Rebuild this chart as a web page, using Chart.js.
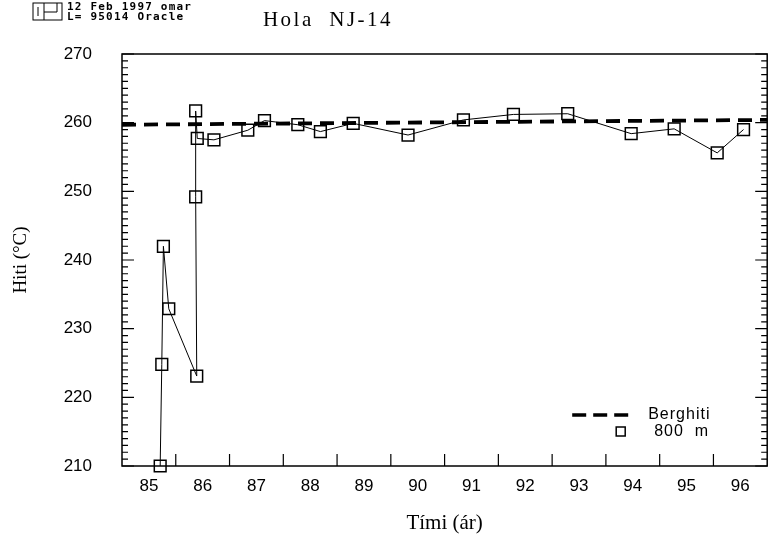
<!DOCTYPE html>
<html>
<head>
<meta charset="utf-8">
<script src="https://cdn.jsdelivr.net/npm/chart.js@4/dist/chart.umd.min.js"></script>
<style>
  body { margin: 0; background: #fff; }
  canvas { display: block; }
</style>
</head>
<body>
<canvas id="holaChart" width="777" height="540"></canvas>
<script>
// Data
const yearLabels = ['85', '86', '87', '88', '89', '90', '91', '92', '93', '94', '95', '96'];
const labelYears = [85, 86, 87, 88, 89, 90, 91, 92, 93, 94, 95, 96];
const years = [85.71, 85.74, 85.77, 85.87, 86.39, 86.37, 86.37, 86.40, 86.71, 87.34, 87.65,
               88.27, 88.69, 89.30, 90.32, 91.35, 92.28, 93.29, 94.47, 95.27, 96.07, 96.56];
const temps = [210.0, 224.8, 242.0, 232.9, 223.1, 249.2, 261.7, 257.7, 257.5, 258.9, 260.3,
               259.7, 258.7, 259.9, 258.2, 260.4, 261.2, 261.3, 258.4, 259.1, 255.6, 259.0];
const bergYears = [85, 97];
const bergTemps = [259.7, 260.4];
const yTicks = [210, 220, 230, 240, 250, 260, 270];

const tickFont = { family: '"Liberation Sans", Arial, sans-serif', size: 17 };
const serif = '"Liberation Serif", "Times New Roman", serif';

// frame, inward tick marks, header, title and legend
const decor = {
  id: 'decor',
  afterDatasetsDraw(chart) {
    const { ctx, chartArea: a, scales: { x, y } } = chart;
    ctx.save();
    ctx.strokeStyle = '#000';
    ctx.lineWidth = 1.5;
    ctx.strokeRect(a.left, a.top, a.right - a.left, a.bottom - a.top);

    ctx.lineWidth = 1.2;
    ctx.beginPath();
    for (let v = y.min; v <= y.max; v++) {
      const py = y.getPixelForValue(v);
      const len = v % 10 === 0 ? 12 : 6;
      ctx.moveTo(a.left, py); ctx.lineTo(a.left + len, py);
      ctx.moveTo(a.right, py); ctx.lineTo(a.right - len, py);
    }
    for (let v = Math.ceil(x.min) + 1; v < x.max; v++) {
      const px = x.getPixelForValue(v);
      ctx.moveTo(px, a.bottom); ctx.lineTo(px, a.bottom - 12);
    }
    ctx.stroke();

    // header block
    ctx.lineWidth = 1;
    ctx.strokeRect(33, 3, 29, 17);
    ctx.beginPath();
    ctx.moveTo(38, 7); ctx.lineTo(38, 16);
    ctx.moveTo(44, 3); ctx.lineTo(44, 20);
    ctx.moveTo(44, 12); ctx.lineTo(57, 12);
    ctx.moveTo(57, 3); ctx.lineTo(57, 12);
    ctx.stroke();
    ctx.fillStyle = '#000';
    ctx.font = 'bold 11px "DejaVu Sans Mono", monospace';
    ctx.letterSpacing = '1.2px';
    ctx.textBaseline = 'alphabetic';
    ctx.textAlign = 'left';
    ctx.fillText('12 Feb 1997 omar', 67, 10);
    ctx.fillText('L= 95014 Oracle', 67, 20);

    // title
    ctx.font = '21px ' + serif;
    ctx.letterSpacing = '2.5px';
    ctx.textAlign = 'center';
    ctx.fillText('Hola  NJ-14', 328, 26);

    // legend
    const lx = a.right - 195, ly = a.top + 361;
    ctx.letterSpacing = '1px';
    ctx.font = '16px "Liberation Sans", Arial, sans-serif';
    ctx.textAlign = 'left';
    ctx.textBaseline = 'middle';
    ctx.lineWidth = 3.5;
    ctx.setLineDash([14, 7]);
    ctx.beginPath();
    ctx.moveTo(lx, ly); ctx.lineTo(lx + 56, ly);
    ctx.stroke();
    ctx.setLineDash([]);
    ctx.fillText('Berghiti', lx + 76, ly);
    ctx.lineWidth = 1.5;
    ctx.strokeRect(lx + 44, ly + 12, 9, 9);
    ctx.fillText('800  m', lx + 82, ly + 17);
    ctx.restore();
  }
};

new Chart(document.getElementById('holaChart'), {
  type: 'line',
  data: {
    datasets: [
      {
        label: 'Berghiti',
        data: bergYears.map((v, i) => ({ x: v, y: bergTemps[i] })),
        borderColor: '#000',
        borderWidth: 3.8,
        borderDash: [14, 8],
        pointRadius: 0,
        fill: false
      },
      {
        label: '800 m',
        data: years.map((v, i) => ({ x: v, y: temps[i] })),
        borderColor: '#000',
        borderWidth: 1,
        pointStyle: 'rect',
        pointRadius: 8.3,
        pointBorderWidth: 1.5,
        pointBorderColor: '#000',
        pointBackgroundColor: 'rgba(0,0,0,0)',
        tension: 0,
        fill: false,
        clip: false
      }
    ]
  },
  options: {
    responsive: false,
    animation: false,
    layout: { padding: { left: 0, right: 7, top: 54, bottom: 0 } },
    plugins: { legend: { display: false }, tooltip: { enabled: false } },
    scales: {
      x: {
        type: 'linear',
        min: 85,
        max: 97,
        afterBuildTicks: s => { s.ticks = labelYears.map(v => ({ value: v + 0.5 })); },
        afterFit: s => { s.height = 74; },
        ticks: {
          callback: (v, i) => yearLabels[i],
          autoSkip: false,
          maxRotation: 0,
          padding: 10,
          color: '#000',
          font: tickFont
        },
        grid: { display: false, drawTicks: false },
        border: { display: false },
        title: {
          display: true,
          text: 'Tími (ár)',
          color: '#000',
          font: { family: serif, size: 21 },
          padding: { top: 0, bottom: 4 }
        }
      },
      y: {
        min: 210,
        max: 270,
        afterBuildTicks: s => { s.ticks = yTicks.map(v => ({ value: v })); },
        afterFit: s => { s.width = 122; },
        ticks: { padding: 30, color: '#000', font: tickFont },
        grid: { display: false, drawTicks: false },
        border: { display: false },
        title: {
          display: true,
          text: 'Hiti (°C)',
          color: '#000',
          font: { family: serif, size: 19 },
          padding: { top: 10, bottom: 0 }
        }
      }
    }
  },
  plugins: [decor]
});
</script>
</body>
</html>
